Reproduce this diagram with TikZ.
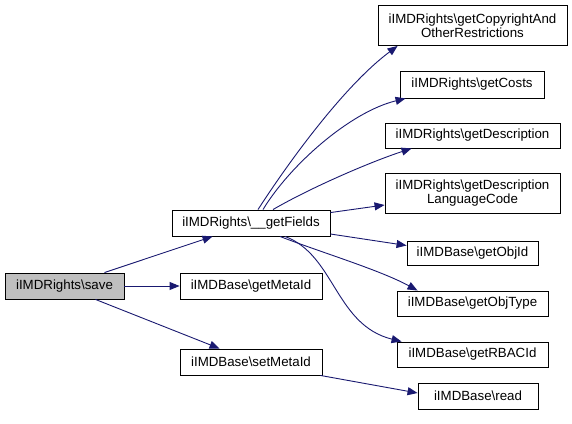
\documentclass[tikz,border=0pt]{standalone}
\usepackage{fontspec}
\setmainfont{Liberation Sans}
\usetikzlibrary{arrows.meta}
\definecolor{edgeblue}{HTML}{191970}
\definecolor{hlgray}{HTML}{BFBFBF}
\tikzset{
  fn/.style={draw=black, line width=0.9pt, fill=white, inner sep=0pt, align=center,
    font=\fontsize{13.3}{14.5}\selectfont},
  call/.style={draw=edgeblue, line width=0.9pt, -{Triangle[length=10pt,width=8pt]}},
}
\begin{document}
\begin{tikzpicture}[x=1pt,y=-1pt]
\useasboundingbox (0,0) rectangle (572,423);
\node[fn, fill=hlgray, minimum width=119pt, minimum height=26pt] (save) at (64.5,286) {iIMDRights\textbackslash save};
\node[fn, minimum width=158pt, minimum height=26pt] (f) at (251,223) {iIMDRights\textbackslash \_\_getFields};
\node[fn, minimum width=142pt, minimum height=26pt] (gm) at (251,286) {iIMDBase\textbackslash getMetaId};
\node[fn, minimum width=142pt, minimum height=26pt] (sm) at (251,362) {iIMDBase\textbackslash setMetaId};
\node[fn, minimum width=189pt, minimum height=40pt] (c) at (472.5,25.5) {iIMDRights\textbackslash getCopyrightAnd\\OtherRestrictions};
\node[fn, minimum width=144pt, minimum height=27pt] (co) at (472,84.5) {iIMDRights\textbackslash getCosts};
\node[fn, minimum width=175pt, minimum height=25pt] (d) at (472.5,135.5) {iIMDRights\textbackslash getDescription};
\node[fn, minimum width=175pt, minimum height=40pt] (lc) at (472.5,193) {iIMDRights\textbackslash getDescription\\LanguageCode};
\node[fn, minimum width=131pt, minimum height=24pt] (oi) at (472.5,253.5) {iIMDBase\textbackslash getObjId};
\node[fn, minimum width=151pt, minimum height=25pt] (ot) at (472.5,303.5) {iIMDBase\textbackslash getObjType};
\node[fn, minimum width=151pt, minimum height=25pt] (rb) at (472.5,354.5) {iIMDBase\textbackslash getRBACId};
\node[fn, minimum width=120pt, minimum height=26pt] (rd) at (478,396) {iIMDBase\textbackslash read};

\draw[call] ([xshift=40pt]save.north) -- ([xshift=41pt]f.south west);
\draw[call] (save.east) -- (gm.west);
\draw[call] ([xshift=31pt]save.south) -- ([xshift=40pt]sm.north west);
\draw[call] ([xshift=-2pt]sm.south east) -- ([yshift=3pt]rd.west);

\draw[call] ([xshift=7pt]f.north) .. controls (290,160) and (345,85) .. ([xshift=20pt]c.south west);
\draw[call] ([xshift=12pt]f.north) .. controls (290,165) and (350,112) .. ([xshift=6pt]co.south west);
\draw[call] ([xshift=22pt]f.north) .. controls (310,188) and (370,162) .. ([xshift=27pt]d.south west);
\draw[call] ([yshift=-3pt]f.north east) -- ([yshift=-12pt]lc.west);
\draw[call] ([yshift=-11pt]f.east) -- ([yshift=8pt]oi.west);
\draw[call] ([xshift=29pt]f.south) .. controls (320,252) and (380,270) .. ([xshift=21pt]ot.north west);
\draw[call] ([xshift=34pt]f.south) .. controls (335,255) and (335,325) .. ([xshift=5pt]rb.north west);
\end{tikzpicture}
\end{document}
